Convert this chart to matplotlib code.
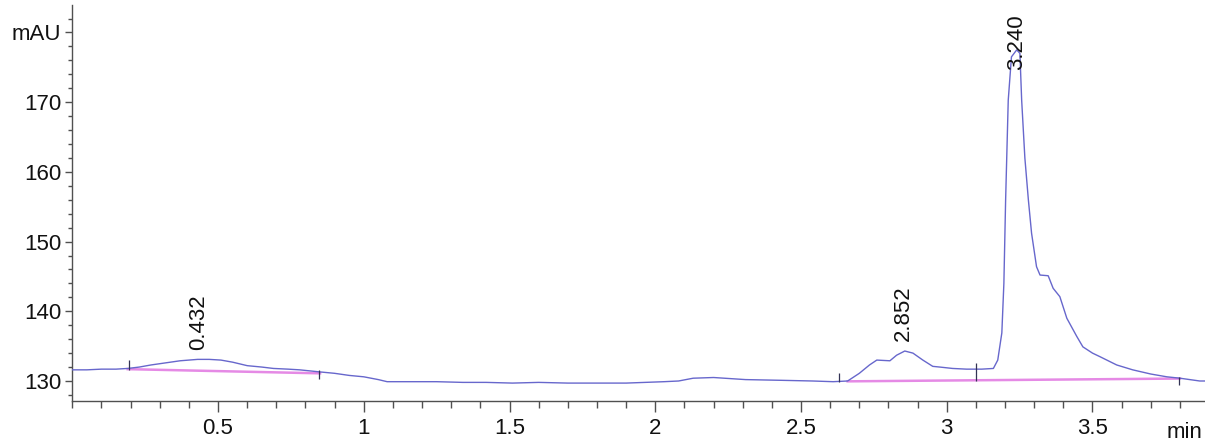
import matplotlib
matplotlib.use("Agg")
import matplotlib.pyplot as plt
from matplotlib import font_manager
from matplotlib.ticker import FixedLocator, MultipleLocator

# ---------------- data ----------------
time_min = [0.00, 0.05, 0.10, 0.15, 0.19, 0.23, 0.27, 0.32, 0.37, 0.43, 0.47, 0.51,
            0.55, 0.60, 0.65, 0.69, 0.74, 0.78, 0.85, 0.90, 0.95, 1.00, 1.05, 1.08,
            1.12, 1.17, 1.25, 1.34, 1.42, 1.51, 1.60, 1.70, 1.80, 1.90, 2.03, 2.08,
            2.13, 2.20, 2.31, 2.43, 2.54, 2.61, 2.66, 2.70, 2.735, 2.76, 2.805, 2.828,
            2.856, 2.884, 2.918, 2.952, 2.976, 3.02, 3.068, 3.12, 3.16, 3.175, 3.189,
            3.196, 3.202, 3.211, 3.222, 3.24, 3.251, 3.257, 3.268, 3.280, 3.291,
            3.308, 3.320, 3.348, 3.365, 3.388, 3.412, 3.446, 3.467, 3.50, 3.525,
            3.583, 3.638, 3.70, 3.755, 3.80, 3.868, 3.89]
signal_mau = [131.6, 131.6, 131.7, 131.7, 131.8, 132.0, 132.3, 132.6, 132.9, 133.1, 133.1, 133.0,
              132.7, 132.2, 132.0, 131.8, 131.7, 131.6, 131.3, 131.1, 130.8, 130.6, 130.2, 129.9,
              129.9, 129.9, 129.9, 129.8, 129.8, 129.7, 129.8, 129.7, 129.7, 129.7, 129.9, 130.0,
              130.4, 130.5, 130.2, 130.1, 130.0, 129.9, 130.0, 131.1, 132.3, 133.0, 132.9, 133.7,
              134.3, 134.0, 133.0, 132.1, 132.0, 131.8, 131.7, 131.7, 131.8, 133.0, 136.9,
              144.0, 156.0, 170.3, 176.5, 177.5, 177.0, 170.3, 162.0, 156.0, 151.2,
              146.4, 145.2, 145.1, 143.3, 142.1, 139.0, 136.4, 134.9, 134.0, 133.5,
              132.3, 131.6, 131.0, 130.6, 130.4, 130.0, 130.0]

# integration baselines (start/end time and value)
base_t0 = [0.19, 2.66]
base_t1 = [0.85, 3.80]
base_v0 = [131.7, 129.95]
base_v1 = [131.1, 130.35]

# peak delimiter marks
delim_t = [0.194, 0.848, 2.63, 3.10, 3.798]
delim_lo = [131.6, 130.3, 129.9, 130.0, 129.4]
delim_hi = [133.0, 131.6, 131.2, 132.6, 130.6]

# labelled peaks
peak_t = [0.432, 2.852, 3.240]
peak_v = [133.1, 134.3, 177.5]
peak_labels = ["0.432", "2.852", "3.240"]

x_ticks = [0.5, 1.0, 1.5, 2.0, 2.5, 3.0, 3.5]
x_ticklabels = ["0.5", "1", "1.5", "2", "2.5", "3", "3.5"]
y_ticks = [130, 140, 150, 160, 170, 180]
y_ticklabels = ["130", "140", "150", "160", "170", "mAU"]
x_unit = "min"

# ---------------- fonts ----------------
names = {f.name for f in font_manager.fontManager.ttflist}
narrow = "Liberation Sans Narrow" if "Liberation Sans Narrow" in names else "Liberation Sans"
plt.rcParams["font.family"] = ["Liberation Sans", "DejaVu Sans"]

W, H = 1205, 441
fig = plt.figure(figsize=(W / 100, H / 100), dpi=100)
left, bottom, top = 72.3, 40, 5
ax = fig.add_axes([left / W, bottom / H, (W - left) / W, (H - bottom - top) / H])

trace_color = "#6767cc"
base_color = "#e58ae5"
axis_color = "#505050"

ax.plot(time_min, signal_mau, color=trace_color, lw=1.0, zorder=3)
for t0, t1, v0, v1 in zip(base_t0, base_t1, base_v0, base_v1):
    ax.plot([t0, t1], [v0, v1], color=base_color, lw=1.8, zorder=2)
ax.vlines(delim_t, delim_lo, delim_hi, color="#333355", lw=0.9, zorder=4)

ax.set_xlim(0, 3.886)
ax.set_ylim(127.13, 183.94)

for spine in ("top", "right"):
    ax.spines[spine].set_visible(False)
for spine in ("left", "bottom"):
    ax.spines[spine].set_color(axis_color)
    ax.spines[spine].set_linewidth(1.0)

ax.xaxis.set_major_locator(FixedLocator(x_ticks))
ax.set_xticklabels(x_ticklabels)
ax.xaxis.set_minor_locator(MultipleLocator(0.1))
ax.yaxis.set_major_locator(FixedLocator(y_ticks))
ax.set_yticklabels(y_ticklabels)
ax.yaxis.set_minor_locator(MultipleLocator(2))

ax.tick_params(axis="x", which="major", direction="out", length=8, width=1,
               color=axis_color, pad=4, labelsize=16, labelcolor="#111111")
ax.tick_params(axis="x", which="minor", direction="out", length=5, width=1, color=axis_color)
ax.tick_params(axis="y", which="major", direction="out", length=5, width=1,
               color=axis_color, pad=3, labelsize=16, labelcolor="#111111")
ax.tick_params(axis="y", which="minor", direction="out", length=3, width=1, color=axis_color)
for lab in ax.get_xticklabels() + ax.get_yticklabels():
    lab.set_family([narrow, "DejaVu Sans"])

# unit label on the time axis, kept inside the figure's right edge
ax.annotate(x_unit, xy=(1.0, 0), xycoords="axes fraction",
            xytext=(-2, -15), textcoords="offset points", ha="right", va="top",
            fontsize=16, family=[narrow, "DejaVu Sans"], color="#111111",
            annotation_clip=False)

# peak labels
ymax = ax.get_ylim()[1]
for t, v, lab in zip(peak_t, peak_v, peak_labels):
    if v > ymax - 12:
        ax.annotate(lab, xy=(t, 1), xycoords=("data", "axes fraction"),
                    xytext=(0, -7), textcoords="offset points",
                    rotation=90, ha="center", va="top", fontsize=16, color="#111111")
    else:
        ax.annotate(lab, xy=(t, v), xytext=(0, 7), textcoords="offset points",
                    rotation=90, ha="center", va="bottom", fontsize=16, color="#111111")

fig.savefig("out.png", dpi=100)
